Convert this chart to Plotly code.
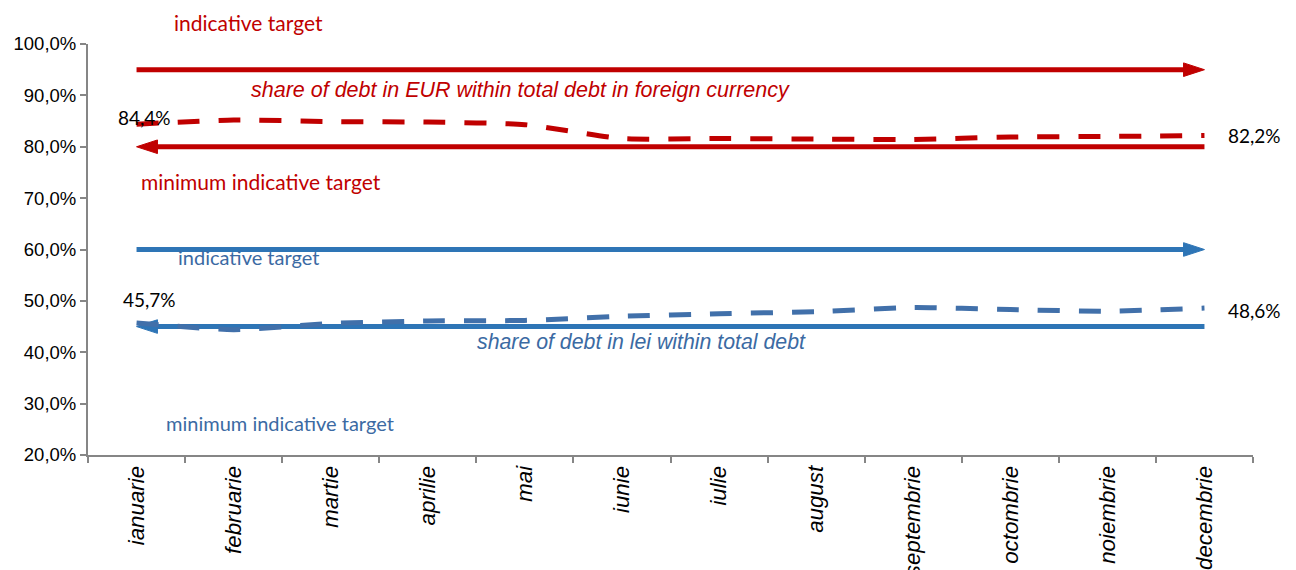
import plotly.graph_objects as go

# ---- data ----
months = ["ianuarie", "februarie", "martie", "aprilie", "mai", "iunie",
          "iulie", "august", "septembrie", "octombrie", "noiembrie", "decembrie"]
eur_share = [84.4, 85.2, 84.9, 84.8, 84.3, 81.6, 81.6, 81.5, 81.4, 81.9, 82.0, 82.2]
lei_share = [45.7, 44.4, 45.6, 46.1, 46.2, 47.0, 47.5, 47.9, 48.7, 48.3, 48.0, 48.6]
eur_indicative = [95.0] * 12
eur_minimum = [80.0] * 12
lei_indicative = [60.0] * 12
lei_minimum = [45.0] * 12
y_ticks = [20, 30, 40, 50, 60, 70, 80, 90, 100]
y_tick_labels = [f"{v:.1f}%".replace(".", ",") for v in y_ticks]

RED = "#C00000"
BLUE = "#2E75B6"
BLUE_DASH = "#4170AA"
BLUE_TEXT = "#3B6AA3"
AXIS = "#868686"

fig = go.Figure()


def arrow_trace(values, color, pointing_right):
    xs = months if pointing_right else months[::-1]
    ys = values if pointing_right else values[::-1]
    sizes = [0] * (len(xs) - 1) + [22]
    return go.Scatter(
        x=xs, y=ys, mode="lines+markers",
        line=dict(color=color, width=5),
        marker=dict(symbol="arrow", angleref="previous", size=sizes, color=color,
                    opacity=1, line=dict(width=1, color=color)),
        showlegend=False, hoverinfo="skip", cliponaxis=False,
    )


fig.add_trace(arrow_trace(eur_indicative, RED, True))
fig.add_trace(arrow_trace(eur_minimum, RED, False))
fig.add_trace(arrow_trace(lei_indicative, BLUE, True))
fig.add_trace(arrow_trace(lei_minimum, BLUE, False))

fig.add_trace(go.Scatter(
    x=months, y=eur_share, mode="lines",
    line=dict(color=RED, width=5, dash="22px,19px", shape="spline", smoothing=0.6),
    showlegend=False, hoverinfo="skip"))
fig.add_trace(go.Scatter(
    x=months, y=lei_share, mode="lines",
    line=dict(color=BLUE_DASH, width=5, dash="22px,19px", shape="spline", smoothing=0.6),
    showlegend=False, hoverinfo="skip"))


def pct(v):
    return f"{v:.1f}%".replace(".", ",")


ann = []
label_font = dict(family="Lato, Carlito, Calibri, sans-serif", size=19, color="#000000")
# value labels
ann.append(dict(x=0, y=eur_share[0], text=pct(eur_share[0]), xshift=8, yshift=7,
                showarrow=False, font=label_font))
ann.append(dict(x=11, y=eur_share[-1], text=pct(eur_share[-1]), xshift=50, yshift=0,
                showarrow=False, font=label_font))
ann.append(dict(x=0, y=lei_share[0], text=pct(lei_share[0]), xshift=13, yshift=23,
                showarrow=False, font=label_font))
ann.append(dict(x=11, y=lei_share[-1], text=pct(lei_share[-1]), xshift=50, yshift=-2,
                showarrow=False, font=label_font))

red_font = dict(family="Lato, Carlito, Calibri, sans-serif", size=21, color=RED)
blue_font = dict(family="Lato, Carlito, Calibri, sans-serif", size=20, color=BLUE_TEXT)
ann.append(dict(x=1.15, y=1.0535, yref="paper", yanchor="middle", text="indicative target",
                showarrow=False, font=red_font))
ann.append(dict(x=1.28, y=73.3, text="minimum indicative target", showarrow=False, font=red_font))
ann.append(dict(x=1.15, y=58.5, text="indicative target", showarrow=False, font=blue_font))
ann.append(dict(x=1.48, y=26.3, text="minimum indicative target", showarrow=False, font=blue_font))
ann.append(dict(x=3.95, y=91.0, text="share of debt in EUR within total debt in foreign currency",
                showarrow=False,
                font=dict(family="Liberation Sans, Arial, sans-serif", size=21.5, color=RED,
                          style="italic")))
ann.append(dict(x=5.2, y=41.9, text="share of debt in lei within total debt",
                showarrow=False,
                font=dict(family="Liberation Sans, Arial, sans-serif", size=21.3, color=BLUE_TEXT,
                          style="italic")))
for a in ann:
    a.setdefault("xref", "x")
    a.setdefault("yref", "y")

fig.update_layout(
    width=1296, height=570,
    margin=dict(l=88, r=43, t=44, b=115, autoexpand=False),
    paper_bgcolor="white", plot_bgcolor="white",
    annotations=ann,
    xaxis=dict(
        type="category", categoryorder="array", categoryarray=months,
        range=[-0.5, 11.5], showgrid=False, zeroline=False,
        showline=True, linecolor=AXIS, linewidth=2,
        ticks="outside", tickson="boundaries", ticklen=6, tickcolor=AXIS, tickwidth=1.5,
        tickangle=-90, automargin=False,
        tickfont=dict(family="Liberation Sans, Arial, sans-serif", size=22.3, color="#000000",
                      style="italic"),
    ),
    yaxis=dict(
        range=[20, 100], showgrid=False, zeroline=False,
        showline=True, linecolor=AXIS, linewidth=2,
        ticks="outside", ticklen=6, tickcolor=AXIS, tickwidth=1.5,
        tickvals=y_ticks, ticktext=y_tick_labels, automargin=False,
        tickfont=dict(family="Liberation Sans, Arial, sans-serif", size=18.5, color="#000000"),
    ),
)

fig.write_html("out.html", config={"displayModeBar": False},
               post_script="document.body.style.margin='0';document.body.style.overflow='hidden';")
